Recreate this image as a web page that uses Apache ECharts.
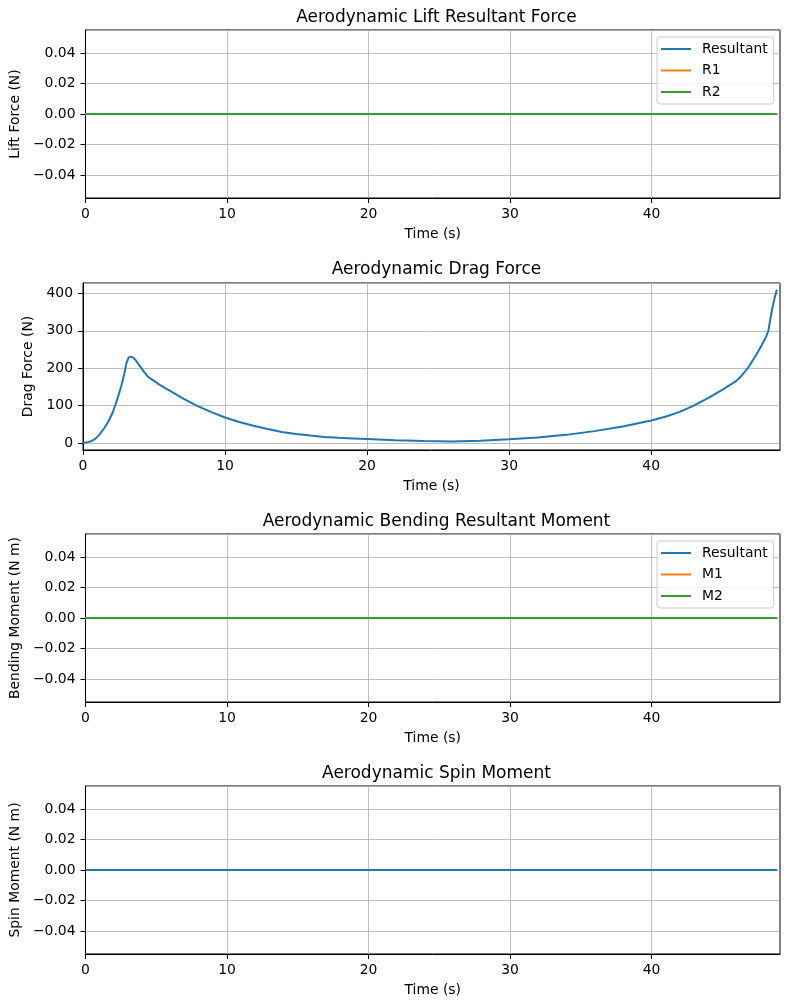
<!DOCTYPE html>
<html>
<head>
<meta charset="utf-8">
<script src="https://cdn.jsdelivr.net/npm/echarts@6/dist/echarts.min.js"></script>
<style>
  html, body { margin: 0; padding: 0; background: #ffffff; }
  #aeroCharts { width: 790px; height: 1008px; }
</style>
</head>
<body>
<div id="aeroCharts"></div>
<script>
// time values (s)
const zeroTime = [0, 48.85];
const liftResultant = [0, 0];
const liftR1 = [0, 0];
const liftR2 = [0, 0];
const bendResultant = [0, 0];
const bendM1 = [0, 0];
const bendM2 = [0, 0];
const spinMoment = [0, 0];

const dragTime = [0, 0.3, 0.6, 0.9, 1.2, 1.5, 1.8, 2.1, 2.4, 2.7, 2.9, 3.05, 3.2, 3.35, 3.5, 3.7, 4.0, 4.3, 4.6,
    5.0, 5.5, 6, 6.5, 7, 7.5, 8, 9, 10, 11, 12, 13, 14, 15, 16, 17, 18, 19, 20, 22, 24, 26, 28, 30, 32, 34, 36, 38,
    40, 41, 42, 43, 44, 45, 46, 46.3, 46.8, 47.4, 47.8, 48.1, 48.25, 48.5, 48.7, 48.85];
const dragForce = [0, 1.5, 5, 12, 24, 40, 58, 82, 115, 153, 184, 212, 228, 231, 229, 222, 206, 190, 176,
    166, 153, 142, 131, 120, 110, 100, 83, 68, 56, 46, 37, 29, 24, 19.5, 16, 13.5, 12, 10.5, 7, 4.8, 3.8, 6, 9.5,
    14.5, 21.5, 31.5, 44, 60, 70, 83, 100, 120, 142, 166, 177, 200, 236, 263, 285, 300, 355, 390, 410];

const xTicks = [0, 10, 20, 30, 40];

const COLORS = ['#1f77b4', '#ff7f0e', '#2ca02c'];
const FONT = 'DejaVu Sans';
const X_MAX = 49.07;

function pairs(xs, ys) {
    return xs.map(function (x, i) {
        return [x, ys[i]];
    });
}

function minus(s) {
    return String(s).replace('-', '\u2212');
}

const grids = [
    {top: 30, height: 168},
    {top: 283, height: 167},
    {top: 534, height: 168},
    {top: 786, height: 168}
];

const titles = [
    {text: 'Aerodynamic Lift Resultant Force', top: 4},
    {text: 'Aerodynamic Drag Force', top: 256},
    {text: 'Aerodynamic Bending Resultant Moment', top: 508},
    {text: 'Aerodynamic Spin Moment', top: 760}
];

const yNames = ['Lift Force (N)', 'Drag Force (N)', 'Bending Moment (N m)', 'Spin Moment (N m)'];
const yGaps = [56, 41, 56, 56];

function xAxisFor(i) {
    return {
        type: 'value',
        gridIndex: i,
        min: 0,
        max: X_MAX,
        name: 'Time (s)',
        nameLocation: 'middle',
        nameGap: 29,
        nameTextStyle: {color: '#000', fontFamily: FONT, fontSize: 13.9},
        axisLine: {show: true, onZero: false, lineStyle: {color: '#000', width: 1}},
        axisTick: {show: true, length: 5, lineStyle: {color: '#000', width: 1},
            customValues: xTicks},
        axisLabel: {color: '#000', fontFamily: FONT, fontSize: 13.9, margin: 9,
            customValues: xTicks,
            formatter: function (v) { return String(v); }},
        splitLine: {show: true, lineStyle: {color: '#b0b0b0', width: 0.8}}
    };
}

function yAxisFor(i, min, max, fmt) {
    return {
        type: 'value',
        gridIndex: i,
        min: min,
        max: max,
        name: yNames[i],
        nameLocation: 'middle',
        nameGap: yGaps[i],
        nameTextStyle: {color: '#000', fontFamily: FONT, fontSize: 13.9},
        axisLine: {show: true, lineStyle: {color: '#000', width: 1}},
        axisTick: {show: true, length: 5, lineStyle: {color: '#000', width: 1}},
        axisLabel: {color: '#000', fontFamily: FONT, fontSize: 13.9, margin: 10,
            showMinLabel: false, showMaxLabel: false, formatter: fmt},
        splitLine: {show: true, lineStyle: {color: '#b0b0b0', width: 0.8}}
    };
}

function smallFmt(v) {
    return minus(v.toFixed(2));
}

function lineSeries(name, idx, xs, ys, color) {
    return {
        type: 'line',
        name: name,
        xAxisIndex: idx,
        yAxisIndex: idx,
        data: pairs(xs, ys),
        symbol: 'none',
        showSymbol: false,
        smooth: false,
        animation: false,
        lineStyle: {color: color, width: 2},
        itemStyle: {color: color}
    };
}

function legendFor(top, names) {
    return {
        orient: 'vertical',
        left: 657,
        top: top,
        icon: 'rect',
        itemWidth: 30,
        itemHeight: 2,
        itemGap: 7.5,
        padding: [5, 6, 5, 4],
        borderColor: '#cccccc',
        borderWidth: 1,
        borderRadius: 3,
        backgroundColor: 'rgba(255,255,255,0.8)',
        selectedMode: false,
        textStyle: {color: '#000', fontFamily: FONT, fontSize: 13.9, padding: [0, 0, 0, 6]},
        data: names
    };
}

const chart = echarts.init(document.getElementById('aeroCharts'));

const option = {
    backgroundColor: '#ffffff',
    animation: false,
    textStyle: {fontFamily: FONT},
    title: titles.map(function (t) {
        return {
            text: t.text,
            left: 431.5,
            textAlign: 'center',
            top: t.top,
            textStyle: {color: '#000', fontFamily: FONT, fontSize: 17, fontWeight: 'normal'}
        };
    }),
    grid: grids.map(function (g) {
        return {
            left: 83,
            right: 10,
            top: g.top,
            height: g.height,
            show: true,
            borderColor: '#000',
            borderWidth: 1,
            backgroundColor: 'transparent'
        };
    }),
    legend: [
        legendFor(37, ['Resultant', 'R1', 'R2']),
        legendFor(541, ['Resultant', 'M1', 'M2'])
    ],
    xAxis: [xAxisFor(0), xAxisFor(1), xAxisFor(2), xAxisFor(3)],
    yAxis: [
        yAxisFor(0, -0.055, 0.055, smallFmt),
        yAxisFor(1, -19, 428, function (v) { return minus(v); }),
        yAxisFor(2, -0.055, 0.055, smallFmt),
        yAxisFor(3, -0.055, 0.055, smallFmt)
    ],
    series: [
        lineSeries('Resultant', 0, zeroTime, liftResultant, COLORS[0]),
        lineSeries('R1', 0, zeroTime, liftR1, COLORS[1]),
        lineSeries('R2', 0, zeroTime, liftR2, COLORS[2]),
        lineSeries('Drag', 1, dragTime, dragForce, COLORS[0]),
        lineSeries('Resultant', 2, zeroTime, bendResultant, COLORS[0]),
        lineSeries('M1', 2, zeroTime, bendM1, COLORS[1]),
        lineSeries('M2', 2, zeroTime, bendM2, COLORS[2]),
        lineSeries('Spin', 3, zeroTime, spinMoment, COLORS[0])
    ]
};

chart.setOption(option);
window.onresize = chart.resize;
</script>
</body>
</html>
